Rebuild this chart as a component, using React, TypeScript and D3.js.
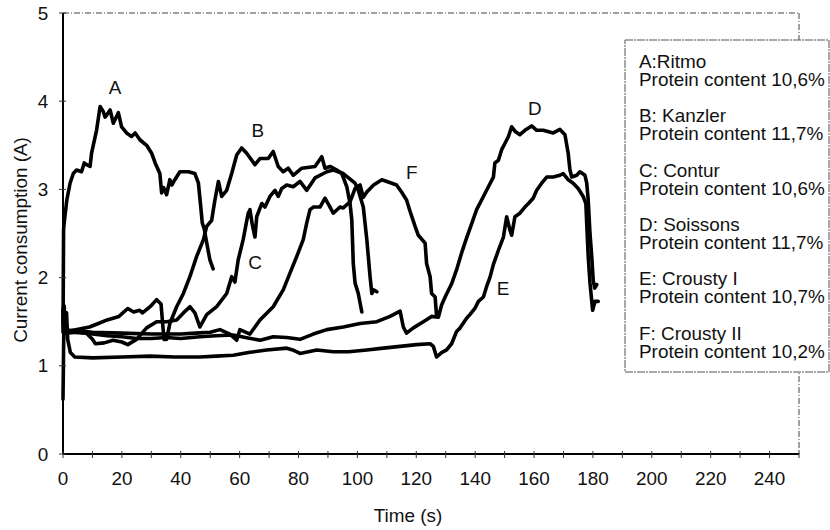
import * as d3 from 'd3'

const W = 830
const H = 530
const M = { left: 63, right: 799, top: 13, bottom: 454 }

// [time s, current A]
const curveA: [number, number][] = [
  [0, 1.38], [0.2, 2.55], [0.6, 2.68], [1.3, 2.88], [2.4, 3.07], [3.5, 3.18], [4.6, 3.22], [6.3, 3.2],
  [7.2, 3.3], [8.0, 3.28], [9.2, 3.26], [9.7, 3.41], [11.4, 3.67], [12.6, 3.94], [13.7, 3.88], [14.3, 3.82],
  [14.8, 3.84], [16, 3.9], [17.1, 3.75], [18.8, 3.87], [19.9, 3.71], [21.6, 3.64], [23.3, 3.6], [24.5, 3.64],
  [26.2, 3.56], [28.4, 3.5], [30.1, 3.41], [31.3, 3.3], [32.9, 3.18], [33.5, 2.96], [34.2, 3.02], [35.2, 2.94],
  [36.3, 3.11], [37, 3.05], [38, 3.11], [39.7, 3.2], [42.6, 3.2], [44.8, 3.18], [46, 3.07], [46.8, 2.8],
  [47.3, 2.62], [48, 2.55], [48.5, 2.45], [49.9, 2.2], [51, 2.1],
]
const curveB: [number, number][] = [
  [0, 1.65], [0.4, 1.4], [3, 1.4], [6, 1.42], [9, 1.44], [12, 1.48], [15, 1.52], [19, 1.56], [22, 1.65],
  [24, 1.61], [26, 1.63], [27, 1.6], [29.6, 1.67], [31.8, 1.75], [33.3, 1.7], [34.3, 1.3], [35.2, 1.3],
  [36.3, 1.48], [38.6, 1.67], [40.9, 1.82], [43.1, 2.01], [45.4, 2.24], [47.7, 2.43], [48.8, 2.58],
  [50.5, 2.65], [51.6, 2.88], [52.8, 3.09], [53.9, 2.92], [55.6, 2.99], [57.3, 3.18], [59, 3.39],
  [60.7, 3.47], [62.4, 3.41], [65.2, 3.28], [66.9, 3.35], [69.7, 3.35], [71.4, 3.43], [73.1, 3.26],
  [74.8, 3.2], [76.5, 3.24], [78.2, 3.16], [81.1, 3.24], [85.6, 3.26], [87.9, 3.37], [89, 3.24],
  [90.7, 3.26], [93, 3.22], [94.7, 3.18], [96.4, 3.03], [97.5, 2.84], [98.1, 2.65], [98.6, 2.16],
  [99.2, 1.94], [100.3, 1.82], [101.5, 1.61],
]
const curveC: [number, number][] = [
  [0, 1.55], [0.4, 1.38], [4, 1.38], [8, 1.37], [10, 1.3], [11, 1.25], [14, 1.26], [17, 1.29], [20, 1.27],
  [22, 1.24], [25, 1.3], [28.4, 1.43], [31.8, 1.5], [35.2, 1.5], [38.6, 1.52], [40.9, 1.6], [43.1, 1.67],
  [44.8, 1.6], [46.5, 1.44], [48.8, 1.58], [52.2, 1.67], [55.6, 1.82], [57.3, 2.01], [58.4, 1.95],
  [59.5, 2.2], [61.2, 2.43], [62.9, 2.73], [63.5, 2.77], [64.3, 2.6], [65.2, 2.46], [65.8, 2.69],
  [67.5, 2.84], [68.6, 2.8], [70.3, 2.92], [72, 2.99], [73.1, 2.92], [74.3, 3.01], [76, 3.05], [78.2, 3.03],
  [80.5, 3.09], [82.8, 2.99], [85.6, 3.13], [89.6, 3.2], [91.8, 3.22], [95.2, 3.18], [99.2, 3.07],
  [100.3, 2.99], [102, 2.8], [103.2, 2.43], [103.7, 2.24], [104.3, 2.01], [104.9, 1.82], [105.6, 1.86],
  [106.6, 1.84],
]
const curveD: [number, number][] = [
  [0, 1.5], [0.4, 1.37], [5, 1.38], [10, 1.36], [15, 1.34], [20, 1.33], [25, 1.31], [30, 1.31], [35, 1.32],
  [40, 1.31], [46.5, 1.33], [52, 1.34], [57.8, 1.35], [62, 1.32], [67, 1.29], [71.4, 1.33], [76, 1.32],
  [80.5, 1.3], [85, 1.36], [89.6, 1.41], [95.2, 1.44], [100.9, 1.48], [106.6, 1.5], [111.1, 1.56],
  [114.5, 1.62], [115.6, 1.44], [116.7, 1.37], [119, 1.43], [122.4, 1.5], [125.2, 1.56], [127.5, 1.55],
  [128.6, 1.69], [129.8, 1.78], [132, 1.93], [133.7, 2.09], [135.4, 2.28], [137.1, 2.45], [138.8, 2.61],
  [140.5, 2.77], [142.8, 2.92], [144.5, 3.03], [146.2, 3.14], [146.7, 3.3], [147.9, 3.33], [149, 3.45],
  [150.1, 3.52], [151.3, 3.6], [152.4, 3.71], [153.5, 3.66], [155.2, 3.62], [156.9, 3.67], [159.2, 3.72],
  [160.9, 3.67], [163.1, 3.67], [166.5, 3.64], [168.8, 3.68], [170.5, 3.62], [171.6, 3.41], [172.2, 3.22],
  [172.8, 3.14], [174.5, 3.16], [175.6, 3.2], [177.3, 3.16], [177.9, 3.07], [178.4, 2.88], [179, 2.5],
  [179.6, 2.24], [180.1, 1.97], [180.6, 1.88], [181.3, 1.92],
]
const curveE: [number, number][] = [
  [0, 0.62], [0.2, 1.2], [0.4, 1.68], [0.8, 1.45], [1.2, 1.6], [1.6, 1.3], [2.5, 1.15], [4, 1.1], [10, 1.09],
  [20, 1.1], [29.6, 1.11], [38, 1.1], [46.5, 1.1], [52, 1.11], [57.8, 1.12], [63, 1.15], [69.2, 1.18],
  [76, 1.2], [78, 1.18], [80.5, 1.14], [86.2, 1.18], [91.8, 1.16], [97, 1.16], [103.2, 1.18], [108.8, 1.2],
  [114.5, 1.22], [120.1, 1.24], [124.7, 1.25], [125.8, 1.22], [126.9, 1.1], [128.6, 1.15], [130.3, 1.18],
  [132, 1.25], [133.7, 1.39], [134.9, 1.43], [137.1, 1.54], [138.2, 1.58], [139.9, 1.65], [141.1, 1.73],
  [142.8, 1.78], [143.9, 1.9], [145, 2.0], [146.2, 2.15], [147.9, 2.31], [149.6, 2.46], [150.7, 2.69],
  [151.8, 2.54], [152.4, 2.48], [153.5, 2.69], [155.2, 2.73], [156.9, 2.8], [158.1, 2.84], [159.7, 2.9],
  [160.9, 2.99], [162.6, 3.07], [164.3, 3.14], [166.5, 3.14], [168.8, 3.16], [169.9, 3.18], [171.6, 3.11],
  [173.3, 3.07], [175, 3.01], [176.7, 2.92], [177.6, 2.84], [177.9, 2.61], [178.4, 2.24], [179, 1.94],
  [179.9, 1.63], [180.7, 1.73], [181.8, 1.73],
]
const curveF: [number, number][] = [
  [0, 1.62], [0.4, 1.4], [5, 1.4], [10, 1.38], [20, 1.37], [30, 1.36], [40, 1.36], [45, 1.37], [50, 1.38],
  [53.3, 1.41], [56.7, 1.36], [59, 1.29], [60.1, 1.41], [63.5, 1.36], [66.9, 1.52], [71.4, 1.67],
  [74.8, 1.86], [77.1, 2.05], [79.4, 2.24], [81.6, 2.43], [82.8, 2.62], [83.9, 2.77], [85, 2.8], [87.3, 2.8],
  [89, 2.9], [90.7, 2.8], [91.8, 2.73], [94.1, 2.8], [95.2, 2.79], [97.5, 2.86], [99.2, 3.01], [100.9, 3.05],
  [102, 2.91], [103.2, 2.97], [105.5, 3.05], [108.3, 3.11], [111.7, 3.07], [113.3, 3.05], [115, 2.97],
  [116.7, 2.88], [117.9, 2.75], [119.6, 2.58], [120.7, 2.48], [123, 2.39], [123.5, 2.16], [124.7, 2.01],
  [125.2, 1.82], [126.4, 1.78], [126.9, 1.56],
]
const CURVES = [curveA, curveB, curveC, curveD, curveE, curveF]

// letter tags placed on the plot, in data units
const TAGS = [
  { name: 'A', t: 17.7, v: 4.15 },
  { name: 'B', t: 66.2, v: 3.67 },
  { name: 'C', t: 65.2, v: 2.17 },
  { name: 'D', t: 160.3, v: 3.92 },
  { name: 'E', t: 149.5, v: 1.88 },
  { name: 'F', t: 118.5, v: 3.19 },
]

const LEGEND = [
  ['A:Ritmo', 'Protein content 10,6%'],
  ['B: Kanzler', 'Protein content 11,7%'],
  ['C: Contur', 'Protein content 10,6%'],
  ['D: Soissons', 'Protein content 11,7%'],
  ['E: Crousty I', 'Protein content 10,7%'],
  ['F: Crousty II', 'Protein content 10,2%'],
]

const X_LABELS = [0, 20, 40, 60, 80, 100, 120, 140, 160, 180, 200, 220, 240]
const X_MINOR = [0, 10, 20, 30, 40, 50, 60, 70, 80, 90, 100, 110, 120, 130, 140, 150, 160, 170, 180, 190, 200, 210, 220, 230, 240, 250]
const Y_LABELS = [0, 1, 2, 3, 4, 5]

const FONT = 'Liberation Sans, Arial, sans-serif'
const FS = 18
const SX = 1.05

function Label({ x, y, anchor = 'start', size = FS, rot = 0, children }: any) {
  return (
    <text
      transform={`translate(${x},${y}) rotate(${rot}) scale(${SX},1)`}
      textAnchor={anchor}
      fontSize={size}
      fontFamily={FONT}
      fill="#111"
    >
      {children}
    </text>
  )
}

export default function App() {
  const x = d3.scaleLinear().domain([0, 250]).range([M.left, M.right])
  const y = d3.scaleLinear().domain([0, 5]).range([M.bottom, M.top])
  const line = d3
    .line<[number, number]>()
    .x((d) => x(d[0]))
    .y((d) => y(d[1]))

  return (
    <svg width={W} height={H} style={{ position: 'absolute', left: 0, top: 0, background: '#fff' }}>
      {/* frame: dotted top/right */}
      <line x1={M.left} x2={M.right} y1={M.top} y2={M.top} stroke="#444" strokeWidth={1} strokeDasharray="6,2,1,2" />
      <line x1={M.right} x2={M.right} y1={M.top} y2={M.bottom} stroke="#444" strokeWidth={1} strokeDasharray="6,2,1,2" />

      {/* curves */}
      {CURVES.map((c, i) => (
        <path key={i} d={line(c) || ''} fill="none" stroke="#000" strokeWidth={3.6} strokeLinejoin="round" strokeLinecap="round" />
      ))}

      {/* axes */}
      <line x1={M.left} x2={M.left} y1={M.top} y2={M.bottom} stroke="#000" strokeWidth={2} />
      <line x1={M.left} x2={M.right} y1={M.bottom} y2={M.bottom} stroke="#000" strokeWidth={2} />
      {X_MINOR.map((t) => (
        <line key={`xm${t}`} x1={x(t)} x2={x(t)} y1={M.bottom - 3} y2={M.bottom + 4} stroke="#333" strokeWidth={1} />
      ))}
      {X_LABELS.map((t) => (
        <Label key={`xl${t}`} x={x(t)} y={M.bottom + 31} anchor="middle">{t}</Label>
      ))}
      {Y_LABELS.map((v) => (
        <g key={`y${v}`}>
          <line x1={M.left - 4} x2={M.left + 3} y1={y(v)} y2={y(v)} stroke="#333" strokeWidth={1} />
          <Label x={43} y={y(v) + 6.5} anchor="middle">{v}</Label>
        </g>
      ))}
      <Label x={408} y={522} anchor="middle">Time (s)</Label>
      <Label x={27} y={240} anchor="middle" rot={-90}>Current consumption (A)</Label>

      {/* curve tags */}
      {TAGS.map((t) => (
        <Label key={t.name} x={x(t.t)} y={y(t.v) + 6.5} anchor="middle">{t.name}</Label>
      ))}

      {/* legend */}
      <rect x={625} y={40} width={204} height={332} fill="#fff" stroke="#555" strokeWidth={1} strokeDasharray="8,1,2,1" />
      {LEGEND.map((l, i) => (
        <g key={l[0]}>
          <Label x={639} y={68 + i * 54.3}>{l[0]}</Label>
          <Label x={639} y={86 + i * 54.3}>{l[1]}</Label>
        </g>
      ))}
    </svg>
  )
}
